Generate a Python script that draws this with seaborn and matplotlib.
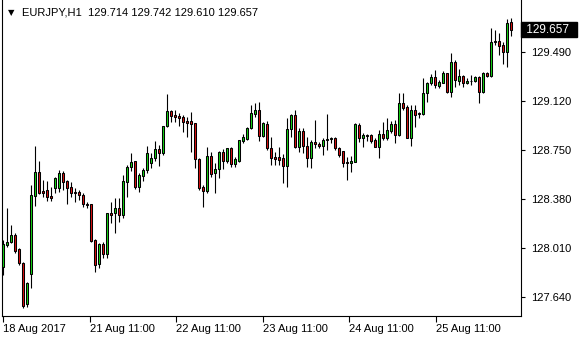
import matplotlib
matplotlib.use("Agg")
import matplotlib.pyplot as plt
import seaborn as sns
import numpy as np
import pandas as pd

# EURJPY H1 bars
symbol = "EURJPY,H1"

opens = [127.867, 128.031, 128.054, 128.107, 128.001, 127.895, 127.586, 127.812, 128.401, 128.583,
         128.439, 128.446, 128.401, 128.462, 128.462, 128.575, 128.515, 128.469, 128.431, 128.431,
         128.409, 128.341, 128.341, 128.069, 127.887, 128.039, 127.963, 128.273, 128.273, 128.311,
         128.258, 128.507, 128.620, 128.665, 128.469, 128.552, 128.598, 128.650, 128.688, 128.756,
         128.726, 128.930, 129.043, 129.013, 129.005, 128.998, 128.967, 128.967, 128.952, 128.681,
         128.469, 128.439, 128.703, 128.575, 128.605, 128.733, 128.665, 128.764, 128.643, 128.665,
         128.816, 128.831, 128.915, 129.020, 129.051, 128.854, 128.945, 128.764, 128.696, 128.696,
         128.688, 128.628, 128.907, 129.013, 128.771, 128.892, 128.779, 128.688, 128.809, 128.794,
         128.779, 128.824, 128.831, 128.839, 128.764, 128.741, 128.658, 128.650, 128.658, 128.937,
         128.839, 128.862, 128.862, 128.824, 128.771, 128.869, 128.839, 128.892, 128.945, 128.862,
         129.103, 129.073, 128.839, 129.051, 129.028, 129.020, 129.179, 129.254, 129.300, 129.232,
         129.254, 129.330, 129.186, 129.413, 129.269, 129.307, 129.254, 129.269, 129.269, 129.300,
         129.186, 129.330, 129.307, 129.571, 129.571, 129.541, 129.488, 129.714]

highs = [128.069, 128.311, 128.182, 128.122, 128.009, 127.903, 127.752, 128.484, 128.779, 128.665,
         128.522, 128.515, 128.469, 128.545, 128.598, 128.590, 128.522, 128.507, 128.462, 128.446,
         128.424, 128.356, 128.341, 128.077, 128.046, 128.054, 128.273, 128.356, 128.386, 128.386,
         128.560, 128.635, 128.726, 128.665, 128.575, 128.613, 128.779, 128.726, 128.816, 128.786,
         128.930, 129.171, 129.051, 129.051, 129.028, 129.013, 128.998, 129.035, 128.952, 128.688,
         128.484, 128.771, 128.733, 128.650, 128.741, 128.756, 128.764, 128.771, 128.696, 128.824,
         128.869, 128.922, 129.088, 129.103, 129.111, 128.960, 128.967, 128.847, 128.733, 128.771,
         128.718, 128.990, 129.020, 129.051, 128.915, 128.915, 128.847, 128.824, 128.975, 128.809,
         128.839, 129.020, 128.847, 128.847, 128.771, 128.741, 128.696, 128.703, 128.952, 128.952,
         128.877, 128.869, 128.869, 128.839, 128.900, 128.960, 128.990, 128.967, 128.975, 129.179,
         129.179, 129.088, 129.088, 129.088, 129.035, 129.292, 129.262, 129.322, 129.353, 129.277,
         129.345, 129.330, 129.481, 129.428, 129.360, 129.315, 129.292, 129.315, 129.307, 129.307,
         129.337, 129.337, 129.670, 129.655, 129.632, 129.564, 129.738, 129.742]

lows = [127.805, 128.016, 128.046, 127.971, 127.880, 127.556, 127.563, 127.707, 128.326, 128.416,
        128.394, 128.363, 128.363, 128.424, 128.431, 128.446, 128.341, 128.394, 128.356, 128.371,
        128.318, 128.311, 128.054, 127.827, 127.857, 127.933, 127.933, 128.197, 128.122, 128.205,
        128.235, 128.394, 128.590, 128.454, 128.431, 128.515, 128.575, 128.613, 128.665, 128.628,
        128.711, 128.922, 128.960, 128.960, 128.930, 128.884, 128.847, 128.733, 128.613, 128.446,
        128.318, 128.424, 128.545, 128.424, 128.537, 128.605, 128.650, 128.620, 128.620, 128.658,
        128.801, 128.824, 128.907, 128.998, 128.816, 128.847, 128.748, 128.635, 128.635, 128.635,
        128.499, 128.469, 128.847, 128.764, 128.733, 128.726, 128.620, 128.613, 128.764, 128.764,
        128.711, 128.748, 128.801, 128.748, 128.696, 128.620, 128.522, 128.582, 128.658, 128.809,
        128.771, 128.816, 128.801, 128.771, 128.688, 128.824, 128.824, 128.877, 128.801, 128.854,
        129.051, 128.839, 128.779, 128.922, 128.990, 129.013, 129.111, 129.239, 129.217, 129.217,
        129.254, 129.179, 129.149, 129.224, 129.239, 129.224, 129.247, 129.239, 129.262, 129.103,
        129.179, 129.300, 129.300, 129.541, 129.466, 129.398, 129.375, 129.610]

closes = [128.037, 128.054, 128.107, 127.986, 127.895, 127.571, 127.744, 128.409, 128.583, 128.424,
          128.424, 128.394, 128.386, 128.537, 128.575, 128.507, 128.462, 128.424, 128.424, 128.409,
          128.341, 128.333, 128.061, 127.880, 128.039, 127.963, 128.273, 128.258, 128.311, 128.258,
          128.515, 128.620, 128.658, 128.469, 128.560, 128.598, 128.726, 128.688, 128.756, 128.726,
          128.930, 129.043, 129.005, 128.998, 128.990, 128.960, 128.952, 128.945, 128.681, 128.462,
          128.439, 128.703, 128.567, 128.605, 128.733, 128.665, 128.764, 128.643, 128.681, 128.824,
          128.847, 128.915, 129.028, 129.051, 128.854, 128.952, 128.764, 128.688, 128.681, 128.673,
          128.628, 128.907, 129.013, 128.771, 128.892, 128.779, 128.688, 128.809, 128.794, 128.779,
          128.824, 128.831, 128.839, 128.764, 128.711, 128.650, 128.650, 128.665, 128.945, 128.839,
          128.862, 128.854, 128.816, 128.771, 128.869, 128.839, 128.900, 128.945, 128.862, 129.103,
          129.066, 128.839, 129.051, 129.013, 129.020, 129.179, 129.254, 129.300, 129.239, 129.262,
          129.330, 129.186, 129.413, 129.277, 129.307, 129.254, 129.269, 129.266, 129.300, 129.186,
          129.330, 129.307, 129.564, 129.564, 129.534, 129.488, 129.707, 129.657]

# time axis labels sit at these bar positions
time_ticks = [0, 21.7, 43.2, 64.9, 86.4, 108.1]
time_labels = ["18 Aug 2017", "21 Aug 11:00", "22 Aug 11:00",
               "23 Aug 11:00", "24 Aug 11:00", "25 Aug 11:00"]
price_ticks = [127.640, 128.010, 128.380, 128.750, 129.120, 129.490]

bull = "#14d214"
bear = "#d81010"

df = pd.DataFrame({"open": opens, "high": highs, "low": lows, "close": closes})
df["bar"] = np.arange(len(df))
df["up"] = df["close"] >= df["open"]

sns.set_style("white")
plt.rcParams["font.family"] = ["Liberation Sans", "DejaVu Sans"]

fig = plt.figure(figsize=(5.8, 3.4), dpi=100)
ax = fig.add_axes([2.3 / 580, 24 / 340, (521 - 2.3) / 580, 316 / 340])

# wicks then bodies
ax.vlines(df["bar"], df["low"], df["high"], color="black", linewidth=0.8, zorder=2)
body_lo = df[["open", "close"]].min(axis=1)
body_h = (df["close"] - df["open"]).abs()
colors = np.where(df["up"], bull, bear)
ax.bar(df["bar"], body_h, bottom=body_lo, width=0.55, color=colors,
       edgecolor="black", linewidth=0.75, zorder=3)

ax.set_xlim(-0.25, 129.4)
ax.set_ylim(127.495, 129.881)

ax.yaxis.tick_right()
ax.set_yticks(price_ticks, [f"{v:.3f}" for v in price_ticks])
ax.set_xticks(time_ticks, time_labels, ha="left")
ax.tick_params(axis="y", direction="out", length=3, width=0.8, pad=4,
               labelsize=8, colors="black")
ax.tick_params(axis="x", direction="out", length=4, width=0.8, pad=2,
               labelsize=8, colors="black", bottom=True)
for side in ["left", "right", "bottom"]:
    ax.spines[side].set_visible(True)
    ax.spines[side].set_color("black")
    ax.spines[side].set_linewidth(0.8)
ax.spines["top"].set_visible(False)
ax.grid(False)

# last price marker on the price scale
ax.annotate(f" {closes[-1]:.3f}  ", xy=(1.0, closes[-1]), xycoords=ax.get_yaxis_transform(),
            xytext=(2, 0), textcoords="offset pixels", ha="left", va="center",
            fontsize=8.5, color="white", annotation_clip=False,
            bbox=dict(boxstyle="square,pad=0.15", facecolor="black", edgecolor="black"))

# chart header
fig.text(8 / 580, 1 - 12.5 / 340, "\u25bc", family="DejaVu Sans", fontsize=6,
         va="center", ha="left", color="black")
header = f"{symbol}  {opens[-1]:.3f} {highs[-1]:.3f} {lows[-1]:.3f} {closes[-1]:.3f}"
fig.text(21.5 / 580, 1 - 12.5 / 340, header, fontsize=8, va="center", ha="left", color="black")

fig.savefig("out.png", dpi=100)
